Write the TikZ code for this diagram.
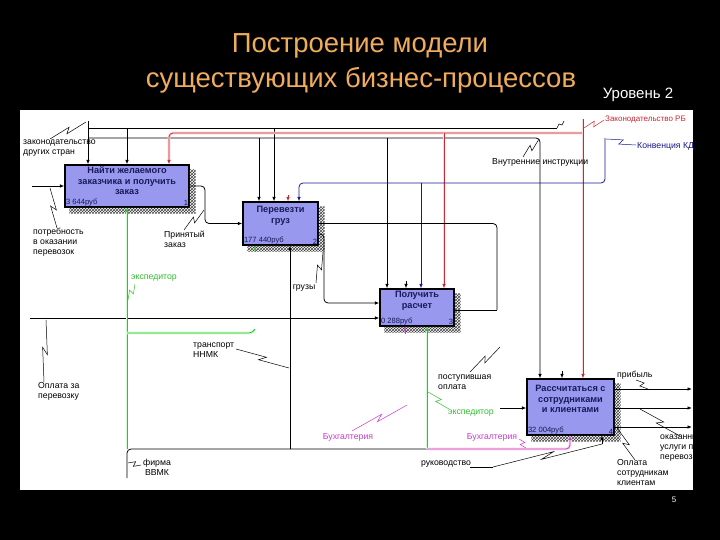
\documentclass[tikz,border=0pt]{standalone}
\usepackage{fontspec}
\setmainfont{Liberation Sans}
\usetikzlibrary{arrows.meta,patterns,calc}
\definecolor{boxfill}{RGB}{152,152,238}
\definecolor{boxtext}{RGB}{25,25,90}
\definecolor{titlecol}{RGB}{240,172,92}
\definecolor{redl}{RGB}{205,40,50}
\definecolor{bluel}{RGB}{25,25,140}
\definecolor{greenl}{RGB}{50,190,50}
\definecolor{pinkl}{RGB}{200,60,200}
\newcommand{\zigz}[3][black]{\draw[#1,line width=0.5pt] (#2) -- ($(#2)!0.56!(#3)!2.5pt!90:(#3)$) -- ($(#2)!0.44!(#3)!2.5pt!-90:(#3)$) -- (#3);}
\newcommand{\bshadow}[1]{\fill[pattern=crosshatch,pattern color=black!75] ($(#1.north east)+(0,5)$) -- ($(#1.north east)+(6,5)$) -- ($(#1.south east)+(6,6)$) -- ($(#1.south west)+(5,6)$) -- ($(#1.south west)+(5,0)$) -- (#1.south east) -- cycle;}
\tikzset{
  box/.style={draw=black,line width=1.4pt,fill=boxfill,inner sep=0pt},
  btext/.style={font=\bfseries\fontsize{9.2}{10.5}\selectfont,text=boxtext,align=center,inner sep=1pt},
  cost/.style={font=\fontsize{7.6}{8}\selectfont,text=boxtext,inner sep=1.5pt},
  lbl/.style={font=\fontsize{8.7}{10}\selectfont,align=left,inner sep=0pt},
  ln/.style={line width=0.8pt,rounded corners=4pt},
  arr/.style={-{Latex[length=4.5pt,width=3.6pt]}},
  glowr/.style={redl,preaction={draw,red!15,line width=2.6pt}},
  glowg/.style={greenl,preaction={draw,green!18,line width=2.6pt}},
  glowp/.style={pinkl,preaction={draw,magenta!15,line width=2.6pt}}
}
\begin{document}
\begin{tikzpicture}[x=1pt,y=-1pt]
\fill[black] (0,0) rectangle (720,540);
\useasboundingbox (0,0) rectangle (720,540);
\fill[white] (20,110) rectangle (693,490);
% title
\node[text=titlecol,font=\fontsize{27.5}{30}\selectfont] (t1) at (360,46) {Построение модели};
\node[text=titlecol,font=\fontsize{27.5}{30}\selectfont] (t2) at (361,80) {существующих бизнес-процессов};
\node[text=white,font=\fontsize{15}{18}\selectfont] (lvl) at (638,95) {Уровень 2};
\node[text=white,font=\fontsize{8}{9}\selectfont] (pg) at (674,500) {5};
\begin{scope}
\clip (20,110) rectangle (693,490);
% boxes
\node[box,minimum width=124,minimum height=42] (b1) at (127,186) {};
\node[box,minimum width=75,minimum height=43] (b2) at (280.5,223.5) {};
\node[box,minimum width=74,minimum height=37] (b3) at (417,307.5) {};
\node[box,minimum width=87,minimum height=56] (b4) at (570.5,407) {};
\bshadow{b1}\bshadow{b2}\bshadow{b3}\bshadow{b4}
\node[btext,anchor=north] (b1t) at ($(b1.north)+(0,1.5)$) {Найти желаемого\\заказчика и получить\\заказ};
\node[cost,anchor=south west] (b1c) at (b1.south west) {3 644руб};
\node[cost,anchor=south east] (b1n) at (b1.south east) {1};
\node[btext,anchor=north] (b2t) at ($(b2.north)+(0,4)$) {Перевезти\\груз};
\node[cost,anchor=south west] (b2c) at (b2.south west) {177 440руб};
\node[cost,anchor=south east] (b2n) at (b2.south east) {2};
\node[btext,anchor=north] (b3t) at ($(b3.north)+(0,2)$) {Получить\\расчет};
\node[cost,anchor=south west] (b3c) at (b3.south west) {0 288руб};
\node[cost,anchor=south east] (b3n) at (b3.south east) {3};
\node[btext,anchor=north] (b4t) at ($(b4.north)+(0,6)$) {Рассчитаться с\\сотрудниками\\и клиентами};
\node[cost,anchor=south west] (b4c) at (b4.south west) {32 004руб};
\node[cost,anchor=south east] (b4n) at (b4.south east) {4};
% top controls (black)
\draw[ln,arr] (88,121) -- (88,0 |- b1.north);
\draw[ln] (88,128) -- (557,128);
\draw[line width=0.5pt] (557,128) -- (559,124) -- (562,125) -- (564,121);
\draw[ln,arr] (127,128) -- (127,0 |- b1.north);
\draw[ln,arr] (274,128) -- (274,0 |- b2.north);
\draw[ln,arr] (88,138) -- (540,138) -- (540,0 |- b4.north);
\draw[ln,arr] (259,138) -- (259,0 |- b2.north);
\draw[ln,arr] (387,138) -- (387,0 |- b3.north);
% red controls
\draw[glowr,ln,arr] (583,133) -- (169,133) -- (169,0 |- b1.north);
\draw[glowr,ln,arr] (583,119) -- (583,0 |- b4.north);
\draw[glowr,ln,arr] (444,133) -- (444,0 |- b3.north);
\draw[redl,ln,arr] (288,195) -- (288,0 |- b2.north);
% blue controls
\draw[bluel,ln,arr] (605,138) -- (605,183) -- (299,183) -- (299,0 |- b2.north);
\draw[bluel,ln,arr] (421,183) -- (421,0 |- b3.north);
% short tunnelled arrows
\draw[ln,arr] (406,281) -- (406,0 |- b3.north);
\draw[ln,arr] (562,371) -- (562,0 |- b4.north);
\draw[pinkl,ln,arr] (405,334) -- (405,0 |- b3.south);
\draw[greenl,ln,arr] (255,252) -- (255,0 |- b2.south);
% inputs / outputs
\draw[ln,arr] (32,186) -- (b1.west);
\draw[ln,arr] (b1.east) -- (205,186) -- (205,223.5) -- (b2.west);
\draw[ln] (b2.east) -- (497,223.5) -- (497,310);
\draw[ln,arr] (b2.east |- 0,234) -- (324,234) -- (324,303) -- (b3.west |- 0,303);
\draw[ln] (b3.east |- 0,310) -- (497,310);
\draw[ln,arr] (30,318) -- (b3.west |- 0,318);
\draw[ln,arr] (500,408) -- (b4.west |- 0,408);
\draw[ln,arr] (b4.east |- 0,389) -- (692,389);
\draw[ln,arr] (b4.east |- 0,408) -- (692,408);
\draw[ln,arr] (b4.east |- 0,427) -- (692,427);
% mechanisms
\draw[ln] (127,478) -- (127,449) -- (427,449);
\draw[glowg,ln,arr] (127,449) -- (127,0 |- b1.south);
\draw[glowg,ln] (127,333) -- (253,333) -- (255,329);
\draw[ln,arr] (290,449) -- (290,0 |- b2.south);
\draw[glowg,ln,arr] (427,449) -- (427,0 |- b3.south);
\draw[glowp,ln,arr] (427,449) -- (570,449) -- (570,0 |- b4.south);
\draw[ln,arr] (602,444) -- (602,0 |- b4.south);
% labels
\node[lbl,anchor=north west] (l1) at (23,140) {законодательство\\других стран};
\zigz{50,139}{86,122}
\node[lbl,anchor=north west] (l2) at (33,228) {потребность\\в оказании\\перевозок};
\zigz{57,228}{50,188}
\node[lbl,anchor=north west] (l3) at (164,231) {Принятый\\заказ};
\zigz{184,230}{204,210}
\node[lbl,anchor=west,text=greenl] (l4) at (131,278) {экспедитор};
\zigz[greenl]{135,284}{128,300}
\node[lbl,anchor=north west] (l5) at (193,343) {транспорт\\ННМК};
\zigz{236,349}{289,368}
\node[lbl] (l6) at (304,288) {грузы};
\zigz{316,283}{323,252}
\node[lbl,anchor=north west] (l7) at (38,382) {Оплата за\\перевозку};
\zigz{44,382}{46,320}
\node[lbl,text=pinkl] (l8) at (348,437) {Бухгалтерия};
\zigz[pinkl]{352,431}{407,405}
\node[lbl,text=pinkl] (l9) at (492,437) {Бухгалтерия};
\zigz[pinkl]{519,439}{526,448}
\node[lbl] (l10) at (446,464) {руководство};
\draw[line width=0.5pt] (470,467) -- (493,467);
\zigz{493,467}{602,444}
\node[lbl,anchor=north west] (l11) at (438,375) {поступившая\\оплата};
\zigz{470,372}{500,347}
\node[lbl,anchor=west,text=greenl] (l12) at (448,413) {экспедитор};
\zigz[greenl]{449,409}{428,392}
\node[lbl,anchor=west] (l13) at (617,375) {прибыль};
\zigz{636,380}{648,389}
\node[lbl,anchor=north west] (l14) at (660,435) {оказанные\\услуги по\\перевозке};
\zigz{640,409}{680,436}
\node[lbl,anchor=north west] (l15) at (617,459) {Оплата\\сотрудникам\\клиентам};
\zigz{617,428}{635,460}
\node[lbl,anchor=west] (l16) at (492,162) {Внутренние инструкции};
\zigz{523,157}{539,139}
\node[lbl,anchor=west,text=redl,font=\fontsize{8}{10}\selectfont] (l17) at (605,120) {Законодательство РБ};
\zigz[redl]{604,120}{584,128}
\node[lbl,anchor=west,text=bluel] (l18) at (637,146) {Конвенция КДПГ};
\zigz[bluel]{636,145}{606,139}
\node[lbl,align=center,anchor=north] (l19) at (157,459) {фирма\\ВВМК};
\zigz{141,465}{128,463}
\end{scope}
\end{tikzpicture}
\end{document}
